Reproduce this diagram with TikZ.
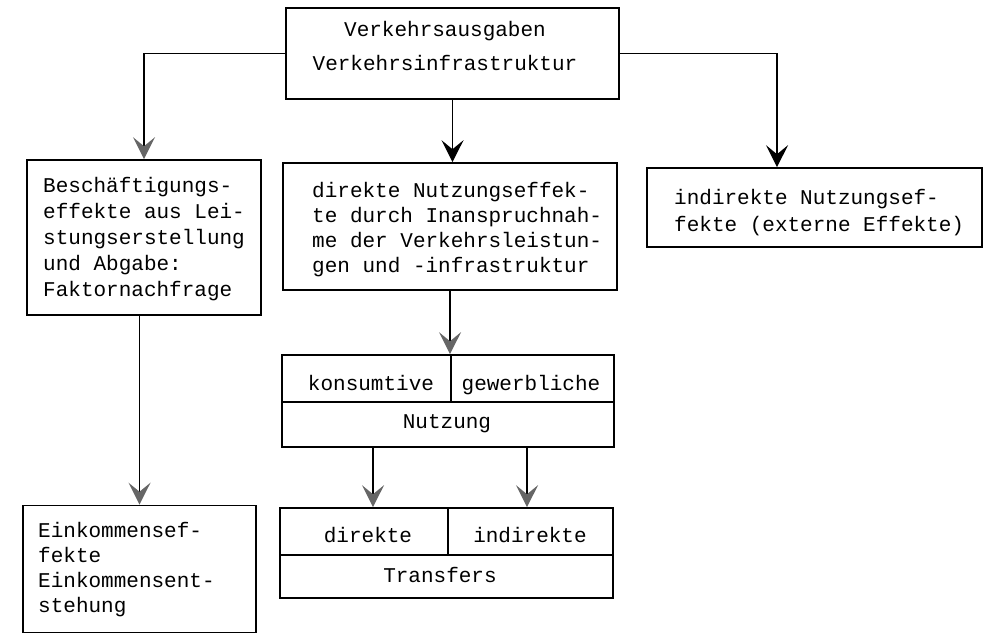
\documentclass[tikz,border=0pt]{standalone}
\usepackage{fontspec}
\setmonofont{Liberation Mono}
\usetikzlibrary{arrows.meta}
\newcommand\txtblock[3]{\parbox[t]{#2}{\setlength\baselineskip{#1}\raggedright #3}}
\newcommand\ctrblock[3]{\parbox[t]{#2}{\setlength\baselineskip{#1}\centering #3}}
\begin{document}
\begin{tikzpicture}[x=1pt,y=-1pt,
  frame/.style={draw, line width=1.6pt, inner sep=0pt},
  txt/.style={inner sep=0pt, font=\ttfamily\fontsize{21}{25}\selectfont},
  conn/.style={line width=1.5pt, -{Stealth[length=22pt,width=22pt,inset=9pt]}},
  conng/.style={line width=1.5pt, -{Stealth[length=22pt,width=22pt,inset=9pt,color=black!60]}}]
\useasboundingbox (0,0) rectangle (987,635);
% boxes
\node[frame, minimum width=333pt, minimum height=91pt] (top) at (452.5,53.5) {};
\node[frame, minimum width=234pt, minimum height=155pt] (left) at (144,237.5) {};
\node[frame, minimum width=334pt, minimum height=127pt] (mid) at (450,226.5) {};
\node[frame, minimum width=335pt, minimum height=79pt] (right) at (814.5,207.5) {};
\node[frame, minimum width=233pt, minimum height=127pt] (ein) at (139.5,569) {};
\node[frame, minimum width=169pt, minimum height=47pt] (nk) at (366.5,378.5) {};
\node[frame, minimum width=163pt, minimum height=47pt] (ng) at (532.5,378.5) {};
\node[frame, minimum width=332pt, minimum height=45pt] (nn) at (448,424.5) {};
\node[frame, minimum width=168pt, minimum height=47pt] (td) at (364,531.5) {};
\node[frame, minimum width=165pt, minimum height=47pt] (ti) at (530.5,531.5) {};
\node[frame, minimum width=333pt, minimum height=43pt] (tt) at (446.5,576.5) {};
% texts
\node[txt, anchor=base] (ttop) at (445,36) {\ctrblock{34pt}{320pt}{Verkehrsausgaben\\Verkehrsinfrastruktur}};
\node[txt, anchor=base west] (tleft) at (43,192) {\txtblock{26.2pt}{215pt}{Beschäftigungs-\\effekte aus Lei-\\stungserstellung\\und Abgabe:\\Faktornachfrage}};
\node[txt, anchor=base west] (tmid) at (312,197) {\txtblock{25.2pt}{300pt}{direkte Nutzungseffek-\\te durch Inanspruchnah-\\me der Verkehrsleistun-\\gen und -infrastruktur}};
\node[txt, anchor=base west] (tright) at (674,204) {\txtblock{27pt}{300pt}{indirekte Nutzungsef-\\fekte (externe Effekte)}};
\node[txt, anchor=base west] (tein) at (38,537) {\txtblock{25.3pt}{210pt}{Einkommensef-\\fekte\\Einkommensent-\\stehung}};
\node[txt, anchor=base] (tk) at (371,390) {konsumtive};
\node[txt, anchor=base] (tg) at (531,390) {gewerbliche};
\node[txt, anchor=base] (tn) at (447,428) {Nutzung};
\node[txt, anchor=base] (tdir) at (368,542) {direkte};
\node[txt, anchor=base] (tind) at (530,542) {indirekte};
\node[txt, anchor=base] (ttr) at (440,582) {Transfers};
% connectors
\draw[conng] (top.west) -| (left.north);
\draw[conn] (top.south) -- (top.south |- mid.north);
\draw[conn] (top.east) -| ([xshift=-37.5pt]right.north);
\draw[conng] (ein.north |- left.south) -- (ein.north);
\draw[conng] (mid.south) -- (mid.south |- nk.north);
\draw[conng] ([xshift=9pt]td.north |- nn.south) -- ([xshift=9pt]td.north);
\draw[conng] ([xshift=-3.5pt]ti.north |- nn.south) -- ([xshift=-3.5pt]ti.north);
\end{tikzpicture}
\end{document}
